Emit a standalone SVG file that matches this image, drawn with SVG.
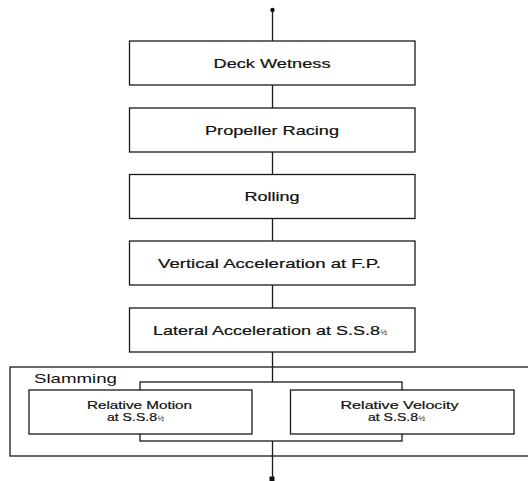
<svg xmlns="http://www.w3.org/2000/svg" width="528" height="481" viewBox="0 0 528 481">
<style>
.box{fill:#fff;stroke:#1a1a1a;stroke-width:1.3}
.frame{fill:none;stroke:#1a1a1a;stroke-width:1.3}
.ln{stroke:#1a1a1a;stroke-width:1.3;fill:none}
.t{font-family:"Liberation Sans",Arial,sans-serif;font-size:13px;fill:#111;stroke:#111;stroke-width:0.2}
.s{font-family:"Liberation Sans",Arial,sans-serif;font-size:10.5px;fill:#111;stroke:#111;stroke-width:0.2}
.f{font-family:"Liberation Sans",Arial,sans-serif;font-size:8px;fill:#111}
.lb{font-family:"Liberation Sans",Arial,sans-serif;font-size:13px;fill:#111}
</style>
<rect width="528" height="481" fill="#fff"/>
<g id="slamming">
<rect class="frame" x="10" y="367" width="519" height="89"/>
<text class="lb" x="34" y="383" textLength="83" lengthAdjust="spacingAndGlyphs">Slamming</text>
</g>
<g id="connectors">
<line class="ln" x1="272.5" y1="10" x2="272.5" y2="41"/>
<line class="ln" x1="272.5" y1="85" x2="272.5" y2="108"/>
<line class="ln" x1="272.5" y1="152" x2="272.5" y2="174.5"/>
<line class="ln" x1="272.5" y1="218.5" x2="272.5" y2="241"/>
<line class="ln" x1="272.5" y1="285" x2="272.5" y2="308"/>
<line class="ln" x1="272.5" y1="352" x2="272.5" y2="382"/>
<rect class="frame" x="140" y="382" width="262" height="59"/>
<line class="ln" x1="272.5" y1="441" x2="272.5" y2="478"/>
<circle cx="272.5" cy="10" r="2.2" fill="#111"/>
<rect x="269.5" y="476.5" width="5" height="4.5" fill="#111"/>
</g>
<g id="deck-wetness">
<rect class="box" x="129.5" y="41" width="285.5" height="44"/>
<text class="t" x="272" y="67.5" text-anchor="middle" textLength="117" lengthAdjust="spacingAndGlyphs">Deck Wetness</text>
</g>
<g id="propeller-racing">
<rect class="box" x="129.5" y="108" width="285.5" height="44"/>
<text class="t" x="272" y="134.5" text-anchor="middle" textLength="134" lengthAdjust="spacingAndGlyphs">Propeller Racing</text>
</g>
<g id="rolling">
<rect class="box" x="129.5" y="174.5" width="285.5" height="44"/>
<text class="t" x="272" y="201" text-anchor="middle" textLength="55" lengthAdjust="spacingAndGlyphs">Rolling</text>
</g>
<g id="vertical-acceleration">
<rect class="box" x="129.5" y="241" width="285.5" height="44"/>
<text class="t" x="158" y="267.5" textLength="223" lengthAdjust="spacingAndGlyphs">Vertical Acceleration at F.P.</text>
</g>
<g id="lateral-acceleration">
<rect class="box" x="129.5" y="308" width="285.5" height="44"/>
<text class="t" x="153" y="334.5" textLength="227" lengthAdjust="spacingAndGlyphs">Lateral Acceleration at S.S.8</text>
<text class="f" x="380.5" y="334.5">½</text>
</g>
<g id="relative-motion">
<rect class="box" x="29" y="390" width="223" height="44"/>
<text class="s" x="139.5" y="409" text-anchor="middle" textLength="105" lengthAdjust="spacingAndGlyphs">Relative Motion</text>
<text class="s" x="107" y="421" textLength="50" lengthAdjust="spacingAndGlyphs">at S.S.8</text>
<text class="f" x="157.5" y="421" font-size="7">½</text>
</g>
<g id="relative-velocity">
<rect class="box" x="290.5" y="390" width="223.5" height="44"/>
<text class="s" x="399.5" y="409" text-anchor="middle" textLength="118" lengthAdjust="spacingAndGlyphs">Relative Velocity</text>
<text class="s" x="368" y="421" textLength="50" lengthAdjust="spacingAndGlyphs">at S.S.8</text>
<text class="f" x="418.5" y="421" font-size="7">½</text>
</g>
</svg>
